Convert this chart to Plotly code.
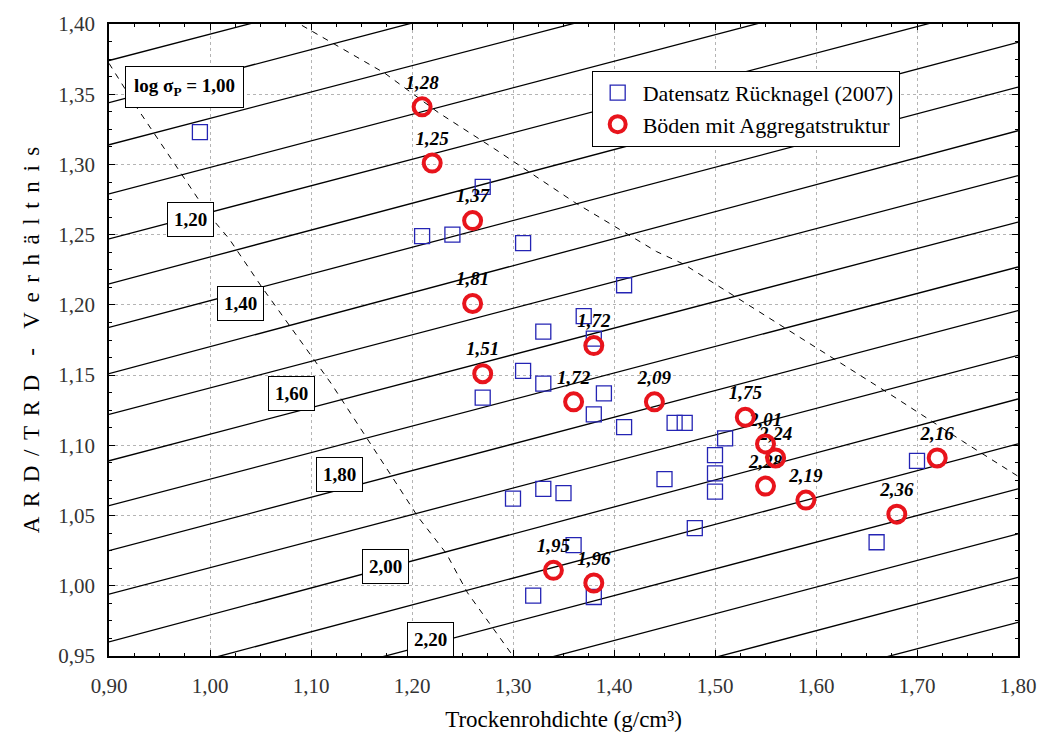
import plotly.graph_objects as go

# ---------------- data ----------------
# Datensatz Rücknagel (2007) – blue open squares
ruck_x = [0.99, 1.27, 1.21, 1.24, 1.31, 1.41, 1.33, 1.37, 1.38, 1.31, 1.33, 1.27, 1.39,
          1.38, 1.41, 1.46, 1.47, 1.51, 1.50, 1.50, 1.50, 1.45, 1.30, 1.33, 1.35, 1.48,
          1.36, 1.32, 1.38, 1.66, 1.70]
ruck_y = [1.323, 1.284, 1.249, 1.250, 1.244, 1.214, 1.181, 1.192, 1.176, 1.153, 1.144,
          1.134, 1.137, 1.122, 1.113, 1.116, 1.116, 1.105, 1.093, 1.080, 1.067, 1.076,
          1.062, 1.069, 1.066, 1.041, 1.029, 0.993, 0.992, 1.031, 1.089]

# Böden mit Aggregatstruktur – red open circles with log sigma_P labels
agg_x = [1.21, 1.22, 1.26, 1.26, 1.27, 1.38, 1.36, 1.44, 1.53, 1.55, 1.56, 1.55, 1.59,
         1.68, 1.72, 1.34, 1.38]
agg_y = [1.341, 1.301, 1.260, 1.201, 1.151, 1.171, 1.131, 1.131, 1.120, 1.101, 1.091,
         1.071, 1.061, 1.051, 1.091, 1.011, 1.002]
agg_logsp = [1.28, 1.25, 1.37, 1.81, 1.51, 1.72, 1.72, 2.09, 1.75, 2.01, 2.24, 2.28, 2.19,
             2.36, 2.16, 1.95, 1.96]

# iso-lines of log sigma_P: ratio value at TRD = 0.90 and at TRD = 1.80
contour_trd = [0.90, 1.80]
contour_y_left = [1.374, 1.344, 1.314, 1.279, 1.247, 1.215, 1.184, 1.151, 1.122, 1.089,
                  1.057, 1.025, 0.994, 0.960, 0.929, 0.898, 0.866, 0.835, 0.804]
contour_y_right = [1.543, 1.514, 1.483, 1.449, 1.417, 1.387, 1.355, 1.324, 1.292, 1.259,
                   1.227, 1.196, 1.164, 1.133, 1.101, 1.069, 1.037, 1.006, 0.974]

# dashed boundary curves
dash1_x = [0.900, 0.928, 0.999, 1.019, 1.051, 1.088, 1.120, 1.179, 1.206, 1.234, 1.255, 1.298]
dash1_y = [1.372, 1.340, 1.264, 1.247, 1.213, 1.176, 1.144, 1.079, 1.049, 1.023, 0.995, 0.952]
dash2_x = [1.091, 1.173, 1.226, 1.282, 1.361, 1.442, 1.469, 1.548, 1.564, 1.672, 1.745, 1.800]
dash2_y = [1.399, 1.365, 1.337, 1.311, 1.273, 1.238, 1.229, 1.193, 1.186, 1.137, 1.103, 1.078]

# boxed iso-line labels
box_text = ["log σ<sub>P</sub> = 1,00", "1,20", "1,40", "1,60", "1,80", "2,00", "2,20"]
box_x = [0.975, 0.981, 1.030, 1.081, 1.128, 1.174, 1.218]
box_y = [1.355, 1.261, 1.201, 1.137, 1.079, 1.014, 0.962]

FONT = "Liberation Serif, Times New Roman, Times, serif"

fig = go.Figure()

for y0, y1 in zip(contour_y_left, contour_y_right):
    fig.add_trace(go.Scatter(x=contour_trd, y=[y0, y1], mode="lines",
                             line=dict(color="black", width=1.3),
                             showlegend=False, hoverinfo="skip"))

for dx, dy in [(dash1_x, dash1_y), (dash2_x, dash2_y)]:
    fig.add_trace(go.Scatter(x=dx, y=dy, mode="lines",
                             line=dict(color="black", width=1, dash="6px,6px"),
                             showlegend=False, hoverinfo="skip"))

fig.add_trace(go.Scatter(x=ruck_x, y=ruck_y, mode="markers",
                         name="Datensatz Rücknagel (2007)",
                         marker=dict(symbol="square-open", size=15,
                                     color="#2424b4", line=dict(width=1.3, color="#2424b4"))))

# labels (drawn below the circles so that the circles can hide parts of them)
fig.add_trace(go.Scatter(x=agg_x, y=agg_y, mode="markers+text",
                         text=[f"{v:.2f}".replace(".", ",") for v in agg_logsp],
                         textposition="top center",
                         textfont=dict(family=FONT, size=19, color="black",
                                       weight="bold", style="italic"),
                         marker=dict(size=20, color="rgba(0,0,0,0)"),
                         showlegend=False, hoverinfo="skip"))

fig.add_trace(go.Scatter(x=agg_x, y=agg_y, mode="markers",
                         name="Böden mit Aggregatstruktur",
                         marker=dict(symbol="circle-open", size=17, color="#e8141c",
                                     line=dict(width=4, color="#e8141c"))))

for i, (t, x, y) in enumerate(zip(box_text, box_x, box_y)):
    fig.add_annotation(x=x, y=y, text=t, showarrow=False,
                       font=dict(family=FONT, size=19, color="black", weight="bold"),
                       bgcolor="white", bordercolor="black", borderwidth=1,
                       borderpad=8 if i == 0 else 6)

axis_common = dict(
    showgrid=True, gridcolor="#b4b4b4", griddash="dot", gridwidth=1,
    showline=True, linecolor="black", linewidth=1.5, mirror="allticks",
    ticks="inside", ticklen=6, tickcolor="black", zeroline=False,
    tickformat=".2f", tickfont=dict(family=FONT, size=21, color="#333333"),
)

sp = "\u2004\u200a"
ytitle = sp.join("ARD/TRD") + sp + sp + "-" + sp + sp + sp.join("Verhältnis")

fig.update_layout(
    width=1048, height=740,
    margin=dict(l=109, r=25, t=21, b=84),
    paper_bgcolor="white", plot_bgcolor="white",
    separators=",.",
    font=dict(family=FONT, color="black"),
    xaxis=dict(range=[0.9, 1.8], tick0=0.9, dtick=0.1,
               minor=dict(dtick=0.025, ticks="inside", ticklen=3, tickcolor="black",
                          showgrid=False),
               ticklabelstandoff=10,
               title=dict(text="Trockenrohdichte (g/cm³)",
                          font=dict(family=FONT, size=23, color="black"), standoff=14),
               **axis_common),
    yaxis=dict(range=[0.95, 1.40], tick0=0.95, dtick=0.05,
               minor=dict(dtick=0.0125, ticks="inside", ticklen=3, tickcolor="black",
                          showgrid=False),
               ticklabelstandoff=8,
               title=dict(text=ytitle,
                          font=dict(family=FONT, size=23, color="black"), standoff=12),
               **axis_common),
    legend=dict(x=0.531, y=0.926, xanchor="left", yanchor="top",
                bgcolor="white", bordercolor="black", borderwidth=1,
                font=dict(family=FONT, size=22, color="black"),
                itemwidth=40),
    showlegend=True,
)

fig.write_html("out.html")
